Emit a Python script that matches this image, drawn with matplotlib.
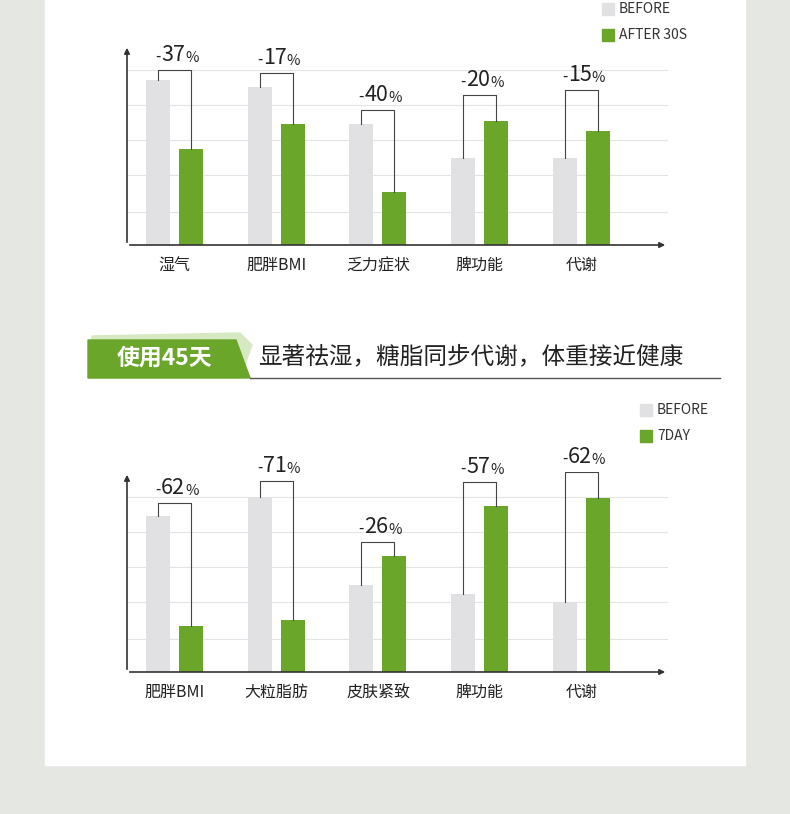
import matplotlib
matplotlib.use("Agg")
import matplotlib.pyplot as plt
from matplotlib.patches import Rectangle, Polygon

plt.rcParams['font.family'] = ['Noto Sans CJK SC', 'DejaVu Sans']

cats1 = ["湿气", "肥胖BMI", "乏力症状", "脾功能", "代谢"]
before1 = [165, 158, 121, 87, 87]
after1 = [96, 121, 53, 124, 114]
pct1 = ["37", "17", "40", "20", "15"]
brk1 = [175, 172, 135, 150, 155]

cats2 = ["肥胖BMI", "大粒脂肪", "皮肤紧致", "脾功能", "代谢"]
before2 = [156, 175, 87, 78, 70]
after2 = [46, 52, 116, 166, 174]
pct2 = ["62", "71", "26", "57", "62"]
brk2 = [169, 191, 130, 190, 200]

legend1 = ["BEFORE", "AFTER 30S"]
legend2 = ["BEFORE", "7DAY"]
title_tag = "使用45天"
title_text = "显著祛湿，糖脂同步代谢，体重接近健康"

W, H = 790, 814
GRAY = "#e1e1e3"
GREEN = "#6aa62a"
fig = plt.figure(figsize=(W/100, H/100), dpi=100)
fig.patch.set_facecolor("#e5e7e3")

def fx(x): return x / W
def fy(y): return 1 - y / H

bg = fig.add_axes([0, 0, 1, 1]); bg.set_xlim(0, W); bg.set_ylim(H, 0); bg.axis('off')
bg.add_patch(Rectangle((45, 0), 700, 765, color="white"))

def chart(top, bottom, cats, before, after, pct, brk, legend, legx, legy):
    ax = fig.add_axes([fx(127), fy(bottom), fx(668-127), (bottom-top)/H])
    ax.set_xlim(-0.47, 4.85); ax.set_ylim(0, 200)
    for s in ax.spines.values(): s.set_visible(False)
    ax.set_xticks([]); ax.set_yticks([])
    ax.patch.set_alpha(0)
    for g in [33, 70, 105, 140, 175]:
        ax.axhline(g, color="#e4e4e4", lw=0.8, zorder=0)
    ax.annotate("", xy=(4.85, 0), xytext=(-0.47, 0),
                arrowprops=dict(arrowstyle="-|>", color="#333", lw=1.2, mutation_scale=8), annotation_clip=False)
    ax.annotate("", xy=(-0.47, 200), xytext=(-0.47, 0),
                arrowprops=dict(arrowstyle="-|>", color="#333", lw=1.2, mutation_scale=8), annotation_clip=False)
    xs = list(range(len(cats)))
    w = 0.236
    ax.bar([x-0.165 for x in xs], before, w, color=GRAY, zorder=2)
    ax.bar([x+0.16 for x in xs], after, w, color=GREEN, zorder=2)
    for x, b, a, p, k, c in zip(xs, before, after, pct, brk, cats):
        ax.plot([x-0.165, x-0.165, x+0.16, x+0.16], [b, k, k, a], color="#444", lw=0.8, zorder=3)
        ax.text(x+0.1, k+4, p, ha='right', va='bottom', fontsize=15.5, color="#222", fontweight='medium')
        ax.text(x-0.14, k+5, "-", ha='right', va='bottom', fontsize=11, color="#222")
        ax.text(x+0.1, k+5, "%", ha='left', va='bottom', fontsize=10.5, color="#222")
        ax.text(x, -12, c, ha='center', va='top', fontsize=11.5, color="#222")
    for i, t in enumerate(legend):
        bg.add_patch(Rectangle((legx, legy + i*26 - 6), 12, 12, color=[GRAY, GREEN][i]))
        bg.text(legx + 17, legy + i*26, t, va='center', ha='left', fontsize=10, color="#333")

chart(45, 245, cats1, before1, after1, pct1, brk1, legend1, 602, 9)
chart(472, 672, cats2, before2, after2, pct2, brk2, legend2, 640, 410)

bg.add_patch(Polygon([(92, 336), (240, 333), (252, 345), (240, 378), (88, 378)], color="#d6e9c2"))
bg.add_patch(Polygon([(88, 340), (236, 340), (250, 378), (88, 378)], color=GREEN))
bg.text(165, 358, title_tag, ha='center', va='center', fontsize=16.5, color='white', fontweight='bold')
bg.plot([250, 720], [378, 378], color="#555", lw=1)
bg.text(258, 357, title_text, ha='left', va='center', fontsize=17, color="#222")

fig.savefig("out.png", dpi=100, facecolor=fig.get_facecolor())
